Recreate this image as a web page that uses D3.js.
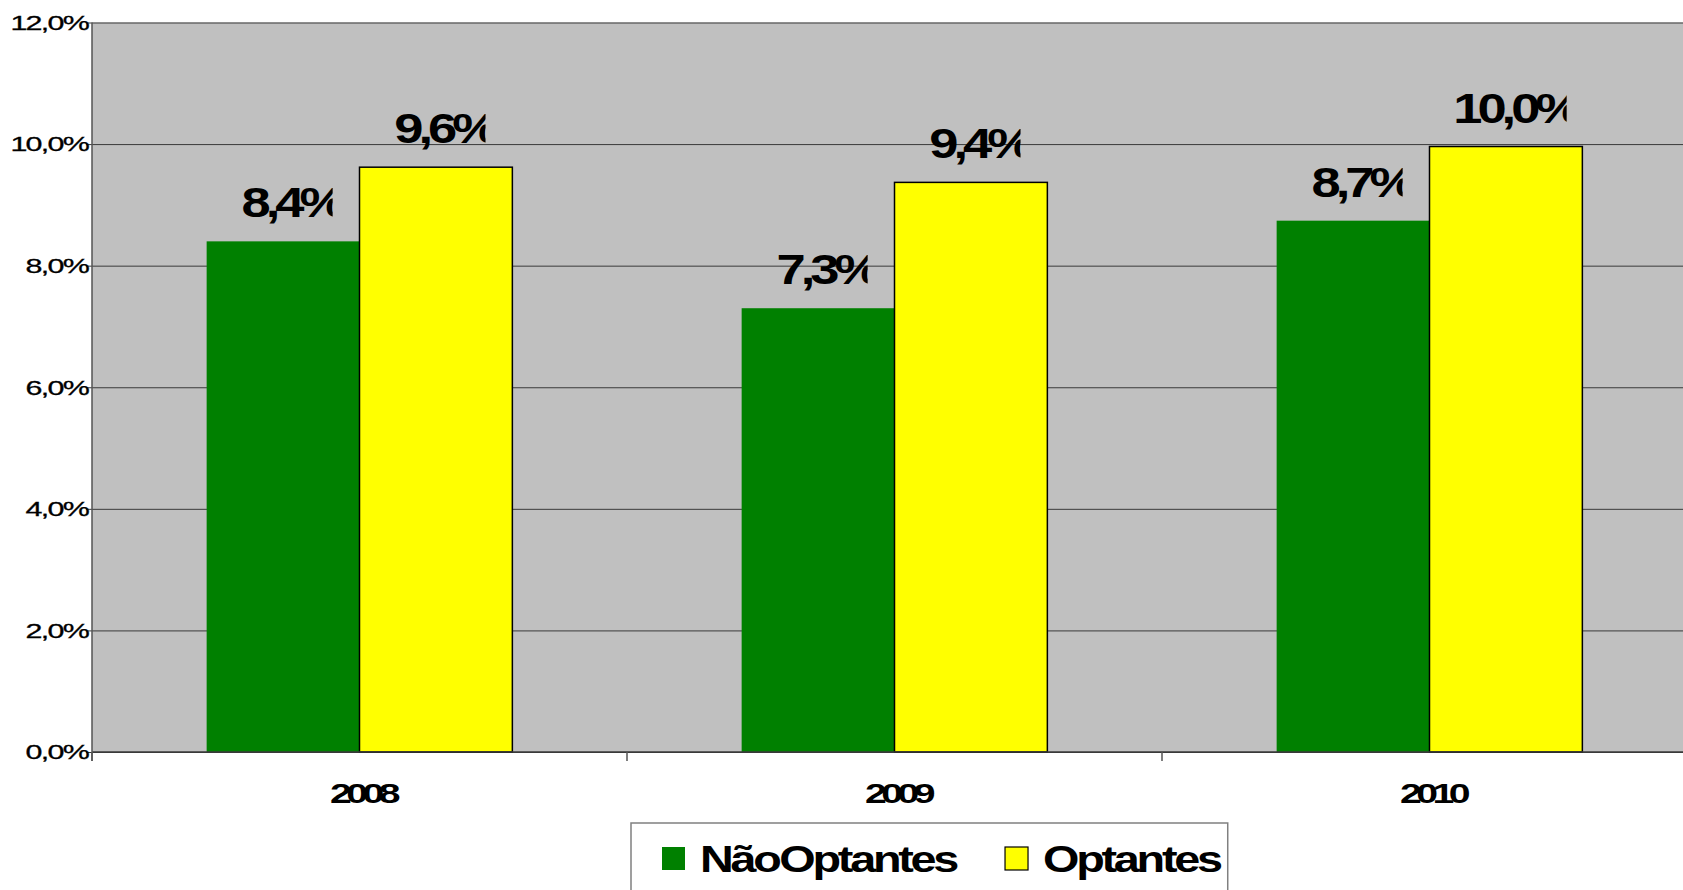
<!DOCTYPE html>
<html>
<head>
<meta charset="utf-8">
<script src="https://cdn.jsdelivr.net/npm/d3@7"></script>
<style>
  html, body { margin: 0; padding: 0; background: #ffffff; }
  svg { display: block; font-family: "Liberation Sans", Arial, sans-serif; }
</style>
</head>
<body>
<svg id="chart" width="1683" height="890"></svg>
<script>
// ---- data ----
const years = ["2008", "2009", "2010"];
const seriesNames = ["Não Optantes", "Optantes"];
const naoOptantes = [8.40, 7.30, 8.74];
const optantes = [9.62, 9.37, 9.96];
const yTicks = [0, 2, 4, 6, 8, 10, 12];
const seriesColors = ["#008000", "#FFFF00"];

const rows = years.map((yr, i) => ({ year: yr, values: [naoOptantes[i], optantes[i]] }));
const fmt = v => v.toFixed(1).replace(".", ",") + "%";

const svg = d3.select("#chart");
const pLeft = 92, pTop = 22.5, pBottom = 752, pRight = 92 + 3 * 535;

const x0 = d3.scaleBand().domain(years).range([pLeft, pRight])
  .paddingInner(1.5 / 3.5).paddingOuter(0.75 / 3.5);
const x1 = d3.scaleBand().domain(seriesNames).range([0, x0.bandwidth()]);
const y = d3.scaleLinear().domain([0, 12]).range([pBottom, pTop]);

// plot background
svg.append("rect").attr("x", pLeft).attr("y", pTop)
  .attr("width", pRight - pLeft).attr("height", pBottom - pTop)
  .attr("fill", "#C0C0C0");

// gridlines + y ticks
const yAxis = d3.axisLeft(y).tickValues(yTicks).tickSize(-(pRight - pLeft)).tickFormat("");
const gy = svg.append("g").attr("transform", `translate(${pLeft},0)`).call(yAxis);
gy.select(".domain").remove();
gy.selectAll(".tick line").attr("stroke", "#3a3a3a").attr("stroke-width", 1)
  .attr("x1", -6);

// y tick labels
svg.append("g").selectAll("text").data(yTicks).join("text")
  .attr("transform", d => `translate(88,${y(d)}) scale(1.45,1)`)
  .attr("text-anchor", "end").attr("dy", "0.35em")
  .attr("font-size", 21).attr("letter-spacing", -1.2).attr("fill", "#000")
  .attr("stroke", "#000").attr("stroke-width", 0.3)
  .text(d => fmt(d));

// bars
const groups = svg.append("g").selectAll("g").data(rows).join("g")
  .attr("transform", d => `translate(${x0(d.year)},0)`);
groups.selectAll("rect").data(d => d.values.map((v, i) => ({ v, i, s: seriesNames[i] })))
  .join("rect")
  .attr("x", d => x1(d.s))
  .attr("y", d => y(d.v))
  .attr("width", x1.bandwidth())
  .attr("height", d => pBottom - y(d.v))
  .attr("fill", d => seriesColors[d.i])
  .attr("stroke", d => d.i === 1 ? "#000" : "none")
  .attr("stroke-width", 1.5);

// axes lines
svg.append("line").attr("x1", pLeft).attr("x2", pRight).attr("y1", pBottom).attr("y2", pBottom)
  .attr("stroke", "#3a3a3a").attr("stroke-width", 1.5);
svg.append("line").attr("x1", pLeft).attr("x2", pLeft).attr("y1", pTop).attr("y2", pBottom + 9)
  .attr("stroke", "#555").attr("stroke-width", 1.5);
// x ticks at band boundaries
svg.append("g").selectAll("line").data(d3.range(years.length + 1)).join("line")
  .attr("x1", i => pLeft + i * x0.step()).attr("x2", i => pLeft + i * x0.step())
  .attr("y1", pBottom).attr("y2", pBottom + 9)
  .attr("stroke", "#555").attr("stroke-width", 1.5);

// x labels
svg.append("g").selectAll("text").data(years).join("text")
  .attr("transform", d => `translate(${x0(d) + x0.bandwidth() / 2 + 3},803) scale(1.4,1)`)
  .attr("text-anchor", "middle").attr("font-weight", "bold")
  .attr("font-size", 28).attr("letter-spacing", -4).text(d => d);

// data labels (clipped like the original)
const measure = svg.append("text").attr("font-weight", "bold").attr("font-size", 40)
  .attr("visibility", "hidden");
const defs = svg.append("defs");
const labels = [];
rows.forEach((r, gi) => r.values.forEach((v, si) => {
  const cx = x0(r.year) + x1(seriesNames[si]) + x1.bandwidth() / 2;
  measure.text(fmt(v));
  const w = measure.node().getComputedTextLength();
  labels.push({ v, cx, w, id: `lab${gi}_${si}` });
}));
measure.remove();
labels.forEach(d => {
  const lx = d.cx + 4 - d.w / 2;
  const by = y(d.v) - 24;
  defs.append("clipPath").attr("id", d.id).append("rect")
    .attr("x", lx).attr("y", by - 45).attr("width", d.w).attr("height", 60);
  svg.append("g").attr("clip-path", `url(#${d.id})`).append("text")
    .attr("transform", `translate(${lx},${by}) scale(1.25,1)`)
    .attr("font-weight", "bold").attr("font-size", 42).attr("letter-spacing", -4)
    .attr("fill", "#000").text(fmt(d.v));
});

// legend
const lg = svg.append("g");
const lbox = lg.append("rect").attr("y", 823).attr("fill", "#fff")
  .attr("stroke", "#808080").attr("stroke-width", 1.5);
let cur = 662, lastEnd = 0;
seriesNames.forEach((s, i) => {
  lg.append("rect").attr("x", cur).attr("y", 847).attr("width", 23).attr("height", 23)
    .attr("fill", seriesColors[i])
    .attr("stroke", i === 1 ? "#000" : "none").attr("stroke-width", 1.2);
  const tx = cur + 38;
  const t = lg.append("text")
    .attr("transform", `translate(${tx},872) scale(1.3,1)`)
    .attr("font-weight", "bold").attr("font-size", 36)
    .attr("letter-spacing", -2.5).attr("word-spacing", -7).text(s);
  const tw = t.node().getBBox().width * 1.3;
  lastEnd = tx + tw;
  cur = lastEnd + 47;
});
lbox.attr("x", 631).attr("width", lastEnd + 6 - 631).attr("height", 100);
</script>
</body>
</html>
